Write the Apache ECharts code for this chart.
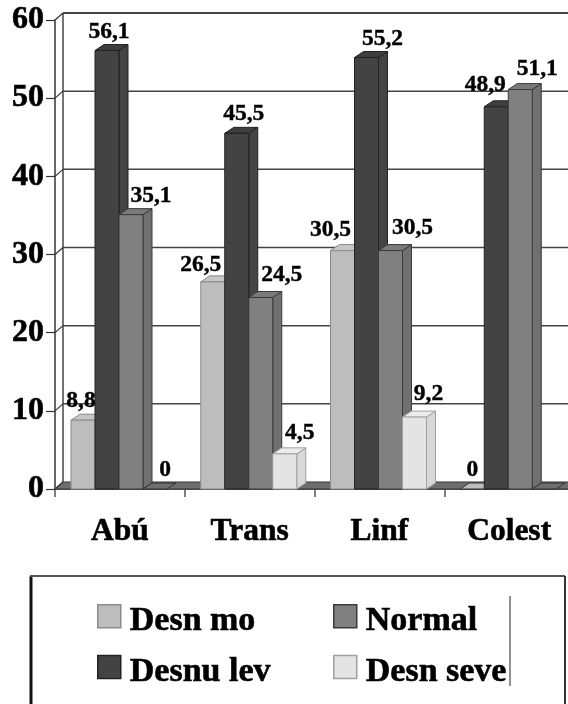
<!DOCTYPE html>
<html><head><meta charset="utf-8">
<style>html,body{margin:0;padding:0;background:#fff}#c{width:568px;height:704px}</style>
<script src="https://cdn.jsdelivr.net/npm/echarts@6/dist/echarts.min.js"></script>
</head><body><div id="c"></div>
<script>
const categories = ['Abú', 'Trans', 'Linf', 'Colest'];
const seriesNames = ['Desn mo', 'Desnu lev', 'Normal', 'Desn seve'];
const desnMo = [8.8, 26.5, 30.5, 0];
const desnuLev = [56.1, 45.5, 55.2, 48.9];
const normal = [35.1, 24.5, 30.5, 51.1];
const desnSeve = [0, 4.5, 9.2, 0];
const yTicks = [0, 10, 20, 30, 40, 50, 60];

const seriesValues = [desnMo, desnuLev, normal, desnSeve];
const FONT = '"Liberation Serif","Times New Roman",serif';
const face = ['#bdbdbd', '#434343', '#808080', '#e4e4e4'];
const side = ['#a8a8a8', '#444444', '#707070', '#d8d8d8'];
const topc = ['#c6c6c6', '#3e3e3e', '#7a7a7a', '#ececec'];
const edge = ['#8a8a8a', '#222222', '#3a3a3a', '#a0a0a0'];
const FLOOR = '#6e6e6e';
const DX = 9, DY = -6, WX = 8, WY = -7;
const GROUP_PAD = 16, BAR_W = 24;
// label nudges per series and category, in px from the centre of the bar's front
const nudgeX = [[-2, -12, -12, 0], [2, 7, 16, -11], [20, 21, 22, 17], [10, 15, 14, 0]];
const nudgeY = [[0, 2, -2, 0], [0, 0, 0, -3], [0, -4, -4, -2], [0, -2, -4, 0]];
const fmt = v => String(v).replace('.', ',');
const hideLabel = (s, i) => s === 3 && i === 3;

function poly(pts, fill, stroke, w) {
  return { type: 'polygon', shape: { points: pts }, style: { fill, stroke, lineWidth: w === undefined ? 1 : w } };
}
function line(x1, y1, x2, y2, stroke, w) {
  return { type: 'line', shape: { x1, y1, x2, y2 }, style: { stroke, lineWidth: w } };
}

const wall = {
  type: 'custom', silent: true, z: 1, clip: false,
  data: yTicks.map(v => [0, v]),
  encode: { x: 0, y: 1 },
  renderItem(p, api) {
    const cs = p.coordSys, y = api.coord([0, api.value(1)])[1];
    const L = cs.x, R = cs.x + cs.width, v = api.value(1), kids = [];
    if (v === 0) {
      kids.push(poly([[L, y], [R, y], [R + WX, y + WY], [L + WX, y + WY]], FLOOR, '#333', 1));
      kids.push(line(L + WX, y + WY, L + WX, cs.y + WY, '#444', 1.5));
    } else {
      kids.push(line(L + WX, y + WY, R + WX, y + WY, '#444', v === 60 ? 2 : 1.5));
    }
    kids.push(line(L, y, L + WX, y + WY, '#333', 1.2));
    return { type: 'group', children: kids };
  }
};

const bars = seriesValues.map((vals, s) => ({
  type: 'custom', name: seriesNames[s], z: 3, clip: false,
  data: vals.map((v, i) => [i, v]),
  encode: { x: 0, y: 1 },
  itemStyle: { color: face[s] },
  renderItem(p, api) {
    const i = api.value(0), v = api.value(1);
    const c = api.coord([i, v]), base = api.coord([i, 0]), band = api.size([1, 0])[0];
    const x0 = c[0] - band / 2 + GROUP_PAD + s * BAR_W, x1 = x0 + BAR_W, y = c[1], b = base[1];
    const kids = [];
    if (v > 0) {
      kids.push(poly([[x1, y], [x1 + DX, y + DY], [x1 + DX, b + DY], [x1, b]], side[s], edge[s]));
      kids.push(poly([[x0, y], [x1, y], [x1 + DX, y + DY], [x0 + DX, y + DY]], topc[s], edge[s]));
      kids.push({ type: 'rect', shape: { x: x0, y, width: BAR_W, height: b - y }, style: { fill: face[s], stroke: edge[s], lineWidth: 1 } });
    } else {
      kids.push(poly([[x0, y], [x1, y], [x1 + DX, y + DY], [x0 + DX, y + DY]], s === 0 ? '#bdbdbd' : FLOOR, '#333'));
    }
    if (!hideLabel(s, i)) {
      kids.push({
        type: 'text', z2: 10,
        style: {
          x: (x0 + x1) / 2 + nudgeX[s][i], y: y + DY - 13 + nudgeY[s][i], text: fmt(v),
          font: 'bold 23.5px ' + FONT, fill: '#000', stroke: '#000', lineWidth: 0.4, align: 'center', verticalAlign: 'middle'
        }
      });
    }
    return { type: 'group', children: kids };
  }
}));

const chart = echarts.init(document.getElementById('c'), null, { renderer: 'canvas' });
const heavy = { textBorderColor: '#000', textBorderWidth: 0.6 };
const legendToken = Object.assign({ fontFamily: FONT, fontWeight: 'bold', fontSize: 34, color: '#000', padding: [10, 0, 0, 4] }, heavy);
const legendBase = {
  orient: 'vertical', itemWidth: 23, itemHeight: 23, itemGap: 16, selectedMode: false, padding: 0,
  icon: 'rect', formatter: '{t|{name}}', textStyle: { rich: { t: legendToken } }
};
const legendData = names => names.map(n => {
  const k = seriesNames.indexOf(n);
  return { name: n, itemStyle: { color: face[k], borderColor: edge[k], borderWidth: 1.5 } };
});
chart.setOption({
  animation: false,
  backgroundColor: '#fff',
  grid: { left: 55, top: 20, width: 519, height: 469, outerBoundsMode: 'none' },
  xAxis: {
    type: 'category', data: categories, boundaryGap: true,
    axisLine: { show: true, onZero: false, lineStyle: { color: '#333', width: 1.5 } },
    axisTick: { show: true, length: 8, lineStyle: { color: '#555', width: 1.5 } },
    axisLabel: Object.assign({ margin: 27, interval: 0, fontFamily: FONT, fontWeight: 'bold', fontSize: 31.5, color: '#000' }, heavy),
    splitLine: { show: false }
  },
  yAxis: {
    type: 'value', min: 0, max: 60, interval: 10,
    axisLine: { show: true, lineStyle: { color: '#333', width: 1.5 } },
    axisTick: { show: true, length: 9, lineStyle: { color: '#333', width: 1.2 } },
    axisLabel: Object.assign({ margin: 11, fontFamily: FONT, fontWeight: 'bold', fontSize: 32, color: '#000', padding: [7, 0, 0, 0] }, heavy),
    splitLine: { show: false }
  },
  legend: [
    Object.assign({}, legendBase, { left: 97, top: 604, data: legendData(seriesNames.slice(0, 2)) }),
    Object.assign({}, legendBase, { left: 333, top: 604, data: legendData(seriesNames.slice(2)) })
  ],
  graphic: [
    { type: 'line', silent: true, shape: { x1: 31, y1: 576, x2: 31, y2: 704 }, style: { stroke: '#111', lineWidth: 3 } },
    { type: 'line', silent: true, shape: { x1: 30, y1: 576, x2: 565, y2: 576 }, style: { stroke: '#555', lineWidth: 2 } },
    { type: 'line', silent: true, shape: { x1: 565, y1: 576, x2: 565, y2: 704 }, style: { stroke: '#333', lineWidth: 2 } },
    { type: 'line', silent: true, shape: { x1: 510, y1: 596, x2: 510, y2: 686 }, style: { stroke: '#222', lineWidth: 1 } }
  ],
  series: [wall].concat(bars)
});
</script></body></html>
